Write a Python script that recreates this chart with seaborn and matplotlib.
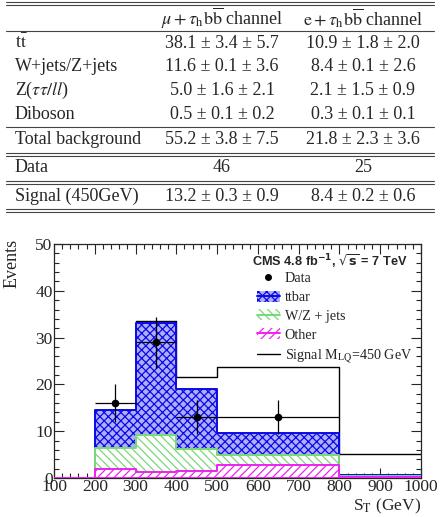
import matplotlib
matplotlib.use("Agg")
import matplotlib.pyplot as plt
import seaborn as sns
import numpy as np
from matplotlib.lines import Line2D
from matplotlib.patches import Patch
from matplotlib.ticker import MultipleLocator

# ---------------- data ----------------
bin_edges = [100, 200, 300, 400, 500, 800, 1000]
other = [0.0, 2.0, 1.2, 1.5, 2.8, 0.3]
wz_jets = [0.0, 4.5, 8.0, 4.8, 2.1, 0.2]
ttbar = [0.0, 8.0, 24.0, 12.7, 4.8, 0.1]
signal = [0.0, 14.5, 33.5, 21.6, 23.7, 5.1]
data_x = [250, 350, 450, 650]
data_y = [16, 29, 13, 13]
data_xerr = [50, 50, 50, 150]
data_yerr = [4.0, 5.4, 3.6, 3.6]

table_header = [r"$\mu + \tau_{\mathrm{h}}\mathrm{b}\overline{\mathrm{b}}$ channel",
                r"$\mathrm{e} + \tau_{\mathrm{h}}\mathrm{b}\overline{\mathrm{b}}$ channel"]
row_labels = [r"t$\bar{\mathrm{t}}$", "W+jets/Z+jets", r"Z($\tau\tau/ll$)", "Diboson",
              "Total background", "Data", "Signal (450GeV)"]
mu_vals = ["38.1 ± 3.4 ± 5.7", "11.6 ± 0.1 ± 3.6", "5.0 ± 1.6 ± 2.1", "0.5 ± 0.1 ± 0.2",
           "55.2 ± 3.8 ± 7.5", "46", "13.2 ± 0.3 ± 0.9"]
e_vals = ["10.9 ± 1.8 ± 2.0", "8.4 ± 0.1 ± 2.6", "2.1 ± 1.5 ± 0.9", "0.3 ± 0.1 ± 0.1",
          "21.8 ± 2.3 ± 3.6", "25", "8.4 ± 0.2 ± 0.6"]

# ---------------- style ----------------
sns.set_style("ticks")
plt.rcParams["font.family"] = ["Liberation Serif", "DejaVu Serif"]
plt.rcParams["mathtext.fontset"] = "stix"
plt.rcParams["hatch.linewidth"] = 0.9

W, H = 442, 517
fig = plt.figure(figsize=(W / 100, H / 100), dpi=100)


def fx(x):
    return x / W


def fy(y):
    return 1 - y / H


# ---------------- table ----------------
tfs = 13
col1_x, col2_x, col3_x = 15, 222, 363
header_y = 18.5
row_ys = [43.3, 66.7, 90.7, 114.3, 139.3, 167.7, 196.7]
for txt, cx in zip(table_header, [col2_x, col3_x]):
    fig.text(fx(cx), fy(header_y), txt, ha="center", va="center", fontsize=tfs)
for lab, m, e, ry in zip(row_labels, mu_vals, e_vals, row_ys):
    fig.text(fx(col1_x), fy(ry), lab, ha="left", va="center", fontsize=tfs)
    fig.text(fx(col2_x), fy(ry), m, ha="center", va="center", fontsize=tfs)
    fig.text(fx(col3_x), fy(ry), e, ha="center", va="center", fontsize=tfs)

rule_ys = [2.0, 5.0, 30.7, 126.7, 152.7, 155.7, 180.7, 183.7, 209.0, 212.0]
for ry in rule_ys:
    fig.add_artist(Line2D([fx(6), fx(434)], [fy(ry), fy(ry)], color="#444444",
                          lw=0.8, transform=fig.transFigure))

# ---------------- histogram ----------------
ax = fig.add_axes([fx(54), fy(478), fx(421) - fx(54), fy(244) - fy(478)])
centers = [(a + b) / 2 for a, b in zip(bin_edges[:-1], bin_edges[1:])]
cum_wz = [o + w for o, w in zip(other, wz_jets)]
cum_tt = [c + t for c, t in zip(cum_wz, ttbar)]

tt_face, tt_edge = "#aeaefc", "#0a0ae6"
wz_edge = "#78d878"
ot_edge = "#ee22ee"

# signal (behind the stack)
sns.histplot(x=centers, weights=signal, bins=bin_edges, element="step", fill=False,
             color="black", linewidth=1.0, ax=ax, zorder=1)

sns.histplot(x=centers, weights=cum_tt, bins=bin_edges, element="step", fill=True,
             facecolor=tt_face, edgecolor=tt_edge, hatch="xxxx", linewidth=1.4,
             alpha=1, ax=ax, zorder=2)
sns.histplot(x=centers, weights=cum_wz, bins=bin_edges, element="step", fill=True,
             facecolor="white", edgecolor=wz_edge, hatch="\\\\\\\\", linewidth=1.4,
             alpha=1, ax=ax, zorder=3)
sns.histplot(x=centers, weights=other, bins=bin_edges, element="step", fill=True,
             facecolor="white", edgecolor=ot_edge, hatch="////", linewidth=1.4,
             alpha=1, ax=ax, zorder=4)

ax.errorbar(data_x, data_y, xerr=data_xerr, yerr=data_yerr, fmt="o", color="black",
            markersize=4.5, elinewidth=0.9, capsize=0, zorder=6)

ax.set_xlim(100, 1000)
ax.set_ylim(0, 50)
ax.xaxis.set_major_locator(MultipleLocator(100))
ax.xaxis.set_minor_locator(MultipleLocator(20))
ax.yaxis.set_major_locator(MultipleLocator(10))
ax.yaxis.set_minor_locator(MultipleLocator(2))
ax.tick_params(which="both", direction="in", top=True, right=True, labelsize=12.5,
               width=0.8)
ax.tick_params(axis="x", pad=1)
ax.tick_params(axis="y", pad=1)
ax.tick_params(which="major", length=7)
ax.tick_params(which="minor", length=3.5)
for s in ax.spines.values():
    s.set_linewidth(0.9)
ax.set_xlabel("")
ax.set_ylabel("")

fig.text(fx(12), fy(263), "Events", rotation=90, ha="center", va="center", fontsize=13)
fig.text(fx(421), fy(506), r"S$_{\mathrm{T}}$ (GeV)", ha="right", va="center", fontsize=12.5)

fig.text(fx(408), fy(262), r"CMS 4.8 fb$^{\mathbf{-1}}$, $\sqrt{\mathbf{s}}$ = 7 TeV",
         ha="right", va="center", fontsize=9.2,
         fontweight="bold", family="Liberation Sans", math_fontfamily="dejavusans")

handles = [
    Line2D([], [], marker="o", color="black", ls="none", markersize=4),
    (Patch(facecolor=tt_face, edgecolor=tt_edge, hatch="xxxx", lw=0),
     Line2D([], [], color=tt_edge, lw=1.4)),
    (Patch(facecolor="white", edgecolor=wz_edge, hatch="\\\\\\\\", lw=0),
     Line2D([], [], color=wz_edge, lw=1.4)),
    (Patch(facecolor="white", edgecolor=ot_edge, hatch="////", lw=0),
     Line2D([], [], color=ot_edge, lw=1.4)),
    Line2D([], [], color="black", lw=1.0),
]
labels = ["Data", "ttbar", "W/Z + jets", "Other", r"Signal M$_{\mathrm{LQ}}$=450 GeV"]
leg = ax.legend(handles, labels, loc="upper left", bbox_to_anchor=(fx(257), fy(272)),
                bbox_transform=fig.transFigure, frameon=False, fontsize=10.2,
                handlelength=1.6, handleheight=0.8, handletextpad=0.35, labelspacing=0.38,
                borderpad=0, borderaxespad=0)

fig.savefig("out.png", dpi=100)
